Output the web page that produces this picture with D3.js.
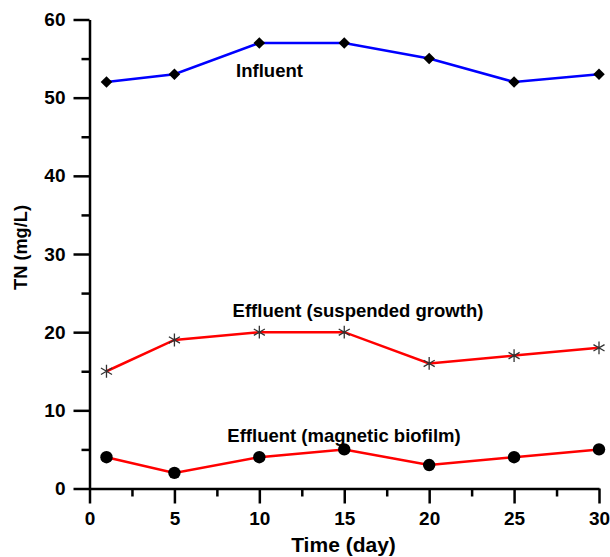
<!DOCTYPE html>
<html>
<head>
<meta charset="utf-8">
<script src="https://cdn.jsdelivr.net/npm/d3@7"></script>
<style>
body{margin:0;background:#fff;}
text{font-family:Arial,"Liberation Sans",sans-serif;font-weight:bold;}
</style>
</head>
<body>
<div id="chart"></div>
<script>
// data
const days = [1, 5, 10, 15, 20, 25, 30];
const influent = [52, 53, 57, 57, 55, 52, 53];
const effSuspended = [15, 19, 20, 20, 16, 17, 18];
const effMagnetic = [4, 2, 4, 5, 3, 4, 5];
const xTicks = [0, 5, 10, 15, 20, 25, 30];
const yTicks = [0, 10, 20, 30, 40, 50, 60];

var W = 610, H = 557;
var margin = {top:19.5,right:11,bottom:68.5,left:89.5},
w = W - margin.left - margin.right,
h = H - margin.top - margin.bottom;

var svg = d3.select("#chart").append("svg")
.attr("width",W).attr("height",H);
var g = svg.append("g").attr("transform",`translate(${margin.left},${margin.top})`);

var x = d3.scaleLinear().domain([0,30]).range([0,w]);
var y = d3.scaleLinear().domain([0,60]).range([h,0]);

/* minor ticks first, then major */
g.append("g").attr("transform","translate(0,"+h+")")
.call(d3.axisBottom(x).tickValues(d3.range(2.5,30,5)).tickSize(8).tickFormat(""))
.call(a=>a.select(".domain").remove());
g.append("g")
.call(d3.axisLeft(y).tickValues(d3.range(5,60,10)).tickSize(8).tickFormat(""))
.call(a=>a.select(".domain").remove());

var xa = g.append("g").attr("transform","translate(0,"+h+")")
.call(d3.axisBottom(x).tickValues(xTicks).tickSize(15).tickSizeOuter(0).tickPadding(8.5));
xa.selectAll("text").attr("font-size","19").attr("fill","#000");
var ya = g.append("g")
.call(d3.axisLeft(y).tickValues(yTicks).tickSize(16).tickSizeOuter(0).tickPadding(8));
ya.selectAll("text").attr("font-size","19").attr("fill","#000");
g.selectAll(".domain,.tick line").attr("stroke","#000").attr("stroke-width",2.5);

var line = d3.line().x((d,i)=>x(days[i])).y(d=>y(d));

function series(vals,color){
  g.append("path").datum(vals)
  .attr("d",line).attr("fill","none")
  .attr("stroke",color).attr("stroke-width",2.5);
}
series(influent,"#0000ff");
series(effSuspended,"#ff0000");
series(effMagnetic,"#ff0000");

// diamonds
g.selectAll(".dia").data(influent).enter().append("path")
.attr("d",d3.symbol(d3.symbolDiamond2,85))
.attr("transform",(d,i)=>`translate(${x(days[i])},${y(d)})`)
.attr("fill","#000");
// stars
g.selectAll(".ast").data(effSuspended).enter().append("path")
.attr("d",d3.symbol(d3.symbolAsterisk,115))
.attr("transform",(d,i)=>`translate(${x(days[i])},${y(d)})`)
.attr("fill","none").attr("stroke","#333").attr("stroke-width",1.3);
// circles
g.selectAll(".dot").data(effMagnetic).enter().append("circle")
.attr("cx",(d,i)=>x(days[i])).attr("cy",d=>y(d)).attr("r",6.2)
.attr("fill","#000");

// series labels
svg.append("text").attr("x",269.5).attr("y",77).attr("text-anchor","middle")
.attr("font-size","18.5").text("Influent");
svg.append("text").attr("x",358).attr("y",317).attr("text-anchor","middle")
.attr("font-size","18.5").text("Effluent (suspended growth)");
svg.append("text").attr("x",344).attr("y",442).attr("text-anchor","middle")
.attr("font-size","18.5").text("Effluent (magnetic biofilm)");

// axis titles
svg.append("text").attr("x",343.5).attr("y",552).attr("text-anchor","middle")
.attr("font-size","21").text("Time (day)");
svg.append("text").attr("transform","translate(27,247.5) rotate(-90)")
.attr("text-anchor","middle").attr("font-size","18.2").text("TN (mg/L)");
</script>
</body>
</html>
